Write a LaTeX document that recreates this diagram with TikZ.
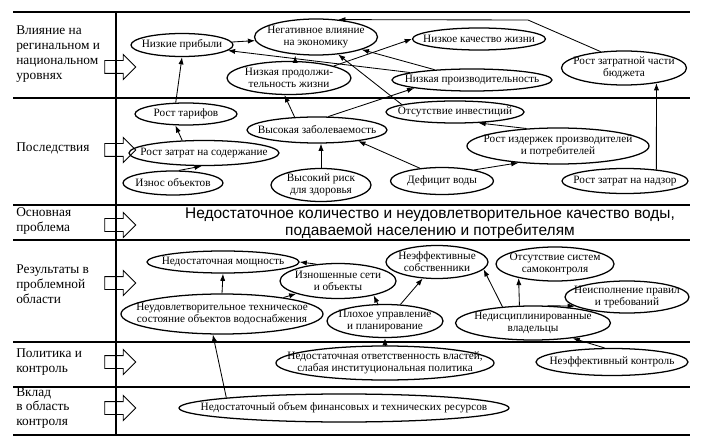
\documentclass[tikz,border=0pt]{standalone}
\usepackage{fontspec}
\setmainfont{Liberation Serif}
\newfontfamily\probfont{Liberation Sans}
\usetikzlibrary{shapes.geometric,shapes.arrows,arrows.meta}
\tikzset{
  ell/.style={ellipse, draw, line width=.9pt, inner sep=-40pt, align=center,
    font=\fontsize{8}{8.6}\selectfont},
  sz/.style 2 args={minimum width=#1mm, minimum height=#2mm},
  arr/.style={line width=.6pt, -{Latex[length=1.8mm,width=1.3mm]}},
  sep/.style={line width=1.2pt},
  lbl/.style={anchor=west, align=left, inner sep=0pt, font=\fontsize{9.5}{10.6}\selectfont},
  blk/.style={single arrow, draw, line width=.7pt, minimum height=7.75mm,
    inner xsep=0pt, inner ysep=1.5mm, single arrow head extend=1.5mm}
}
\begin{document}
\begin{tikzpicture}[x=.25mm, y=-.25mm]
\useasboundingbox (0,0) rectangle (702,442);
% rows and the left column
\foreach \y in {12,98,205,240,342,387,435}
  \draw[sep] (13,\y) -- (690,\y);
\draw[line width=.8pt] (116,12) -- (116,435);
\foreach \n/\y in {1/67,2/150,3/225,4/283,5/362,6/408}
  \node[blk] (a\n) at (117,\y) {};
\node[lbl] (l1) at (16,54) {Влияние на\\регинальном и\\национальном\\уровнях};
\node[lbl] (l2) at (16,148) {Последствия};
\node[lbl] (l3) at (16,221) {Основная\\проблема};
\node[lbl] (l4) at (16,284) {Результаты в\\проблемной\\области};
\node[lbl] (l5) at (16,362) {Политика и\\контроль};
\node[lbl] (l6) at (16,408) {Вклад\\в область\\контроля};

% impact
\node[ell, sz={25.5}{5.75}] (lowprof) at (182,45) {Низкие прибыли};
\node[ell, sz={30.75}{9}] (negeco) at (316,37) {Негативное влияние\\на экономику};
\node[ell, sz={33.25}{5.5}] (lowqual) at (479,39) {Низкое качество жизни};
\node[ell, sz={31}{8.25}] (lowlife) at (289,78) {Низкая продолжи-\\тельность жизни};
\node[ell, sz={40}{5.5}] (lowprod) at (472,80) {Низкая производительность};
\node[ell, sz={31.25}{8.5}] (budget) at (624,68) {Рост затратной части\\бюджета};
\coordinate (bt) at (528,20);

% consequences
\node[ell, sz={25.5}{5.5}] (tariff) at (186,114) {Рост тарифов};
\node[ell, sz={35}{6.5}] (morbid) at (317,130) {Высокая заболеваемость};
\node[ell, sz={34.5}{5.5}] (noinv) at (455,112) {Отсутствие инвестиций};
\node[ell, sz={37.5}{6.25}] (maint) at (204,153) {Рост затрат на содержание};
\node[ell, sz={45.5}{9}] (costs) at (558,146) {Рост издержек производителей\\и потребителей};
\node[ell, sz={25}{6}] (wear) at (173,183) {Износ объектов};
\node[ell, sz={25}{8.25}] (risk) at (321,185) {Высокий риск\\для здоровья};
\node[ell, sz={25.75}{6.75}] (deficit) at (442,181) {Дефицит воды};
\node[ell, sz={31.5}{6.25}] (superv) at (625,181) {Рост затрат на надзор};

% core problem
\node[align=center, font=\probfont\fontsize{11}{12.2}\selectfont] (prob) at (430,223)
  {Недостаточное количество и неудовлетворительное качество воды,\\подаваемой населению и потребителям};

% results
\node[ell, sz={38}{5.5}] (capac) at (223,262) {Недостаточная мощность};
\node[ell, sz={29}{8.75}] (worn) at (338,281) {Изношенные сети\\и объекты};
\node[ell, sz={25.5}{8.25}] (ineffown) at (437,262) {Неэффективные\\собственники};
\node[ell, sz={29.5}{8.5}] (noself) at (555,264) {Отсутствие систем\\самоконтроля};
\node[ell, sz={31}{8}] (noncomp) at (627,297) {Неисполнение правил\\и требований};
\node[ell, sz={50.5}{10}] (techst) at (222,314) {Неудовлетворительное техническое\\состояние объектов водоснабжения};
\node[ell, sz={29}{8.25}] (mgmt) at (385,321) {Плохое управление\\и планирование};
\node[ell, sz={38.75}{8.5}] (undisc) at (533,323) {Недисциплинированные\\владельцы};

% policy and input
\node[ell, sz={54.5}{8.5}] (resp) at (385,363) {Недостаточная ответственность властей,\\слабая институциональная политика};
\node[ell, sz={38}{6.75}] (ineffctl) at (612,362) {Неэффективный контроль};
\node[ell, sz={82.5}{7}] (funds) at (344,408) {Недостаточный объем финансовых и технических ресурсов};

% links
\draw[arr] (tariff.132) -- (lowprof.south);
\draw[arr] (lowprof) -- (negeco);
\draw[arr] (lowprod) -- (lowprof);
\draw[arr] (lowlife.70) -- (lowlife.70 |- negeco.south);
\draw[arr] (lowlife.15) -- (lowqual.west);
\draw[arr] (lowprod) -- (negeco);
\draw[arr] (noinv.172) -- (negeco);
\draw[arr] (morbid.150) -- (lowlife.255);
\draw[arr] (morbid.50) -- (lowprod.188);
\draw[arr] (budget.145) -- (bt) -- (negeco.38);
\draw[arr] (superv.20) -- (budget.-25);
\draw[arr] (maint.150) -- (tariff.227);
\draw[arr] (wear.65) -- (maint.260);
\draw[arr] (risk.north) -- (risk.north |- morbid.south);
\draw[arr] (deficit.150) -- (morbid.-15);
\draw[arr] (deficit.19) -- (costs.203);
\draw[arr] (costs.151) -- (noinv.-25);
\draw[arr] (techst.north) -- (capac.south);
\draw[arr] (techst.15) -- (worn.197);
\draw[arr] (worn.142) -- (capac.east);
\draw[arr] (mgmt.113) -- (worn.-22);
\draw[arr] (mgmt.47) -- (ineffown.229);
\draw[arr] (undisc.152) -- (ineffown.-9);
\draw[arr] (undisc.128) -- (noself.201);
\draw[arr] (undisc.50) -- (noncomp.190);
\draw[arr] (resp.north) -- (mgmt.south);
\draw[arr] (ineffctl.118) -- (undisc.-21);
\draw[arr] (funds.175) -- (techst.246);
\end{tikzpicture}
\end{document}
